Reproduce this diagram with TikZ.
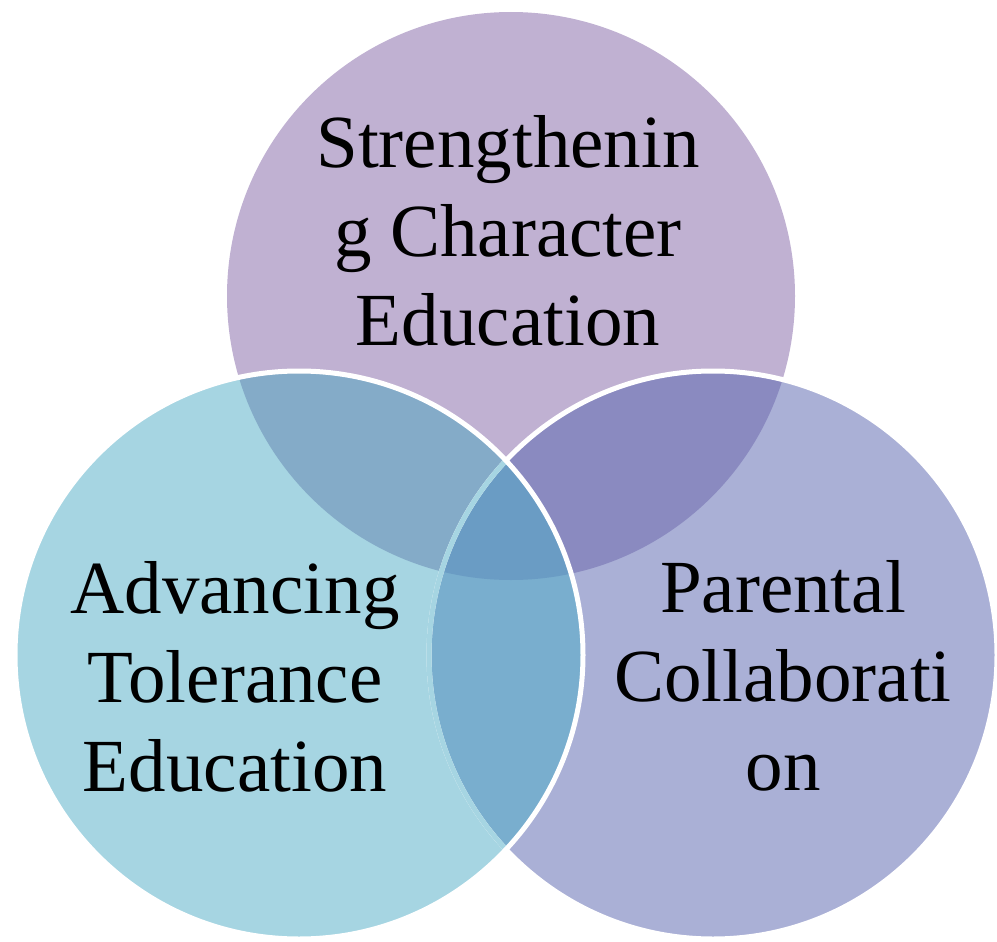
\documentclass[tikz,border=0pt]{standalone}
\usepackage{fontspec}
\setmainfont{Liberation Serif}
\definecolor{topc}{HTML}{C0B1D2}
\definecolor{leftc}{HTML}{A6D5E2}
\definecolor{rightc}{HTML}{AAB0D6}
\definecolor{tlc}{HTML}{84ABC8}
\definecolor{trc}{HTML}{8A8AC0}
\definecolor{lrc}{HTML}{79AECE}
\definecolor{ctrc}{HTML}{6A9CC4}
\newcommand{\lstrut}{\rule[-22pt]{0pt}{89pt}}
\tikzset{
  vlabel/.style={align=center, inner sep=0pt, text=black,
    font=\fontsize{75}{89}\selectfont},
  rim/.style={line width=5pt},
}
\begin{document}
\begin{tikzpicture}[x=1pt,y=-1pt]
\useasboundingbox (0,0) rectangle (997,942);
\coordinate (T) at (511,296);
\coordinate (L) at (299,655);
\coordinate (R) at (713,655);
\def\rr{284pt}
% single regions
\fill[topc] (T) circle[radius=\rr];
\fill[rightc] (R) circle[radius=\rr];
\fill[leftc] (L) circle[radius=\rr];
% pairwise overlaps
\begin{scope}
  \clip (T) circle[radius=\rr];
  \fill[trc] (R) circle[radius=\rr];
  \fill[tlc] (L) circle[radius=\rr];
\end{scope}
\begin{scope}
  \clip (L) circle[radius=\rr];
  \fill[lrc] (R) circle[radius=\rr];
\end{scope}
% centre
\begin{scope}
  \clip (T) circle[radius=\rr];
  \clip (L) circle[radius=\rr];
  \fill[ctrc] (R) circle[radius=\rr];
\end{scope}
% outlines
\draw[white, rim] (R) circle[radius=\rr];
\begin{scope}
  \clip (L) circle[radius=\rr];
  \draw[leftc, rim] (R) circle[radius=\rr];
\end{scope}
\draw[white, rim] (L) circle[radius=\rr];
% labels
\node[vlabel] (ttext) at (508,234) {\lstrut Strengthenin\\\lstrut g Character\\\lstrut Education};
\node[vlabel] (ltext) at (235,680) {\lstrut Advancing\\\lstrut Tolerance\\\lstrut Education};
\node[vlabel] (rtext) at (783,679) {\lstrut Parental\\\lstrut Collaborati\\\lstrut on};
\end{tikzpicture}
\end{document}
